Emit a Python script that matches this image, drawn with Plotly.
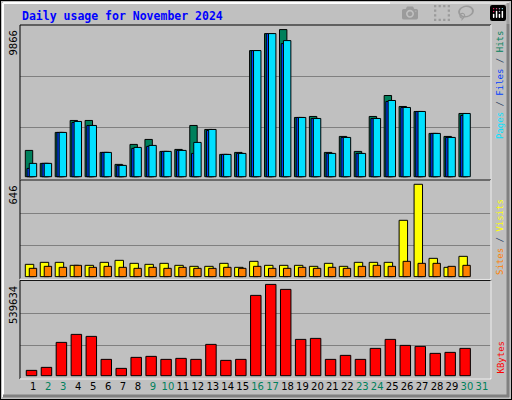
import plotly.graph_objects as go

# values (day 31 has no data yet)
days = list(range(1, 32))
hits = [1763, 893, 2969, 3772, 3772, 1629, 826, 2165, 2500, 1696, 1830, 3437, 3169, 1495, 1629,
        8459, 9598, 9866, 3973, 4040, 1629, 2701, 1696, 4040, 5446, 4710, 4375, 2902, 2701, 4241, None]
files = [558, 893, 2969, 3638, 3437, 1629, 759, 1897, 2031, 1696, 1763, 1562, 3102, 1495, 1562,
         8459, 9598, 8928, 3973, 3906, 1562, 2634, 1562, 3906, 5044, 4643, 4375, 2902, 2634, 4107, None]
pages = [893, 893, 2969, 3705, 3437, 1629, 759, 1964, 2098, 1696, 1763, 2299, 3169, 1495, 1562,
         8459, 9598, 9129, 3973, 3906, 1562, 2634, 1562, 3906, 5111, 4643, 4375, 2902, 2634, 4241, None]
visits = [86, 100, 100, 79, 79, 100, 114, 93, 86, 93, 79, 72, 72, 93, 65,
          107, 79, 79, 79, 72, 93, 72, 100, 100, 100, 394, 646, 128, 65, 142, None]
sites = [58, 72, 65, 79, 65, 72, 65, 58, 65, 58, 65, 58, 58, 65, 58,
         72, 58, 58, 65, 58, 65, 58, 72, 79, 72, 107, 93, 93, 72, 79, None]
kbytes = [31512, 49237, 196950, 244218, 232400, 96506, 43329, 108323, 114231, 96506, 102414,
          96506, 185132, 90597, 96506, 474650, 539634, 510100, 214676, 220584, 96506, 120140,
          96506, 161499, 214676, 179223, 173314, 131958, 137867, 161499, None]
weekend = [2, 3, 9, 10, 16, 17, 23, 24, 30, 31]

GREY = "#c0c0c0"
C_HITS, C_FILES, C_PAGES = "#00805c", "#0040ff", "#00e0ff"
C_VISITS, C_SITES, C_KB = "#ffff00", "#ff8000", "#ff0000"
MONO = "DejaVu Sans Mono"

fig = go.Figure()


def bars(vals, color, off, w, ax):
    fig.add_trace(go.Bar(x=days, y=vals, marker=dict(color=color, line=dict(color="black", width=1)),
                         offset=off, width=w, xaxis="x" + ax, yaxis="y" + ax, showlegend=False))


bars(hits, C_HITS, -0.535, 0.495, "")
bars(files, C_FILES, -0.42, 0.495, "")
bars(pages, C_PAGES, -0.27, 0.495, "")
bars(visits, C_VISITS, -0.535, 0.565, "2")
bars(sites, C_SITES, -0.27, 0.495, "2")
bars(kbytes, C_KB, -0.47, 0.70, "3")

xr = [0.11, 31.61]
xdom = [20 / 512, 491 / 512]
xbase = dict(range=xr, domain=xdom, showgrid=False, zeroline=False, fixedrange=True)
ticktext = [f"<span style='color:{C_HITS if d in weekend else 'black'}'>{d}</span>" for d in days]


def yax(mx, lo, hi, dom):
    return dict(range=[lo, hi], domain=dom, tickvals=[mx * 0.333, mx * 0.683], showticklabels=False,
                gridcolor="#808080", gridwidth=1, zeroline=False, ticks="", fixedrange=True)


fig.update_layout(
    width=512, height=400, margin=dict(l=0, r=0, t=0, b=0),
    paper_bgcolor=GREY, plot_bgcolor=GREY, barmode="overlay",
    xaxis=dict(xbase, anchor="y", showticklabels=False),
    xaxis2=dict(xbase, anchor="y2", showticklabels=False),
    xaxis3=dict(xbase, anchor="y3", tickvals=days, ticktext=ticktext, ticks="",
                tickfont=dict(family="DejaVu Sans", size=10, color="black")),
    yaxis=yax(9866, -221, 10174, [0.55, 0.9375]),
    yaxis2=yax(646, -18, 676, [0.302, 0.55]),
    yaxis3=yax(539634, -19500, 563250, [0.0525, 0.299]),
)

# frames: outer 3d border and panel borders
shapes = [
    dict(type="rect", xref="paper", yref="paper", x0=0, y0=0, x1=1, y1=1, line=dict(color="black", width=2)),
    dict(type="line", xref="paper", yref="paper", x0=3 / 512, y0=1 - 3 / 400, x1=1 - 3 / 512, y1=1 - 3 / 400,
         line=dict(color="white", width=2)),
    dict(type="line", xref="paper", yref="paper", x0=3 / 512, y0=3 / 400, x1=3 / 512, y1=1 - 3 / 400,
         line=dict(color="white", width=2)),
    dict(type="line", xref="paper", yref="paper", x0=3 / 512, y0=4 / 400, x1=1 - 3 / 512, y1=4 / 400,
         line=dict(color="#808080", width=3)),
    dict(type="line", xref="paper", yref="paper", x0=1 - 4 / 512, y0=3 / 400, x1=1 - 4 / 512, y1=1 - 3 / 400,
         line=dict(color="#808080", width=3)),
]
for y0, y1 in [(0.55, 0.9375), (0.302, 0.55), (0.0525, 0.299)]:
    shapes.append(dict(type="rect", xref="paper", yref="paper", x0=xdom[0], x1=xdom[1], y0=y0, y1=y1,
                       line=dict(color="black", width=1)))
    shapes.append(dict(type="line", xref="paper", yref="paper", x0=xdom[0], x1=xdom[1], y0=y0, y1=y0,
                       line=dict(color="white", width=1.5)))
    shapes.append(dict(type="line", xref="paper", yref="paper", x0=xdom[1], x1=xdom[1], y0=y0, y1=y1,
                       line=dict(color="white", width=1.5)))
fig.update_layout(shapes=shapes)

ann = [
    dict(text="<b>Daily usage for November 2024</b>", x=20 / 512, y=1 - 16 / 400, xanchor="left",
         yanchor="middle", font=dict(family=MONO, size=11.5, color="#0000ff")),
    dict(text="9866", x=13 / 512, y=1 - 29 / 400, yanchor="top", textangle=-90),
    dict(text="646", x=13 / 512, y=1 - 184 / 400, yanchor="top", textangle=-90),
    dict(text="539634", x=13 / 512, y=1 - 284 / 400, yanchor="top", textangle=-90),
    dict(text=f"<span style='color:{C_PAGES}'>Pages</span> / <span style='color:{C_FILES}'>Files</span>"
              f" / <span style='color:{C_HITS}'>Hits</span>",
         x=500 / 512, y=1 - 29 / 400, yanchor="top", textangle=-90, font=dict(family=MONO, size=9)),
    dict(text=f"<span style='color:{C_SITES}'>Sites</span> / <span style='color:{C_VISITS}'>Visits</span>",
         x=500 / 512, y=1 - 277 / 400, yanchor="bottom", textangle=-90, font=dict(family=MONO, size=9)),
    dict(text=f"<span style='color:{C_KB}'>KBytes</span>",
         x=500 / 512, y=1 - 376 / 400, yanchor="bottom", textangle=-90, font=dict(family=MONO, size=9)),
]
for a in ann:
    a.setdefault("font", dict(family="DejaVu Sans", size=10, color="black"))
    a.update(xref="paper", yref="paper", showarrow=False, xanchor=a.get("xanchor", "center"))
fig.update_layout(annotations=ann)

# drop the default 8px body margin so the figure sits at the window corner
fig.write_html("out.html", post_script="document.body.style.margin='0';")
